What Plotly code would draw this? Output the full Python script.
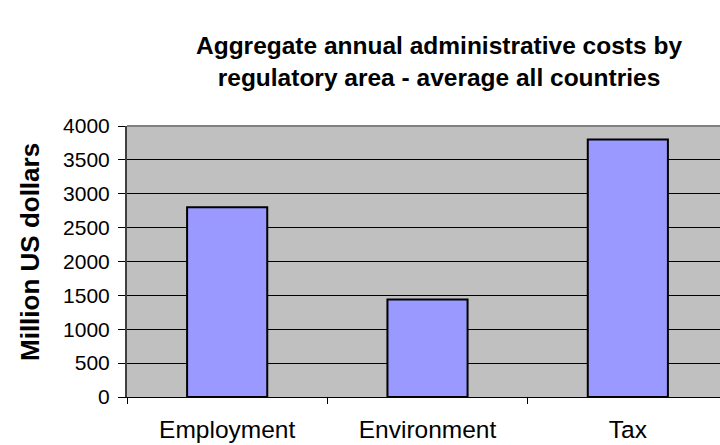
import plotly.graph_objects as go

# Aggregate annual administrative costs (million US dollars)
categories = ["Employment", "Environment", "Tax"]
costs = [2800, 1440, 3800]
y_ticks = [0, 500, 1000, 1500, 2000, 2500, 3000, 3500, 4000]

FONT = "Liberation Sans, Arial, sans-serif"

fig = go.Figure(
    go.Bar(
        x=categories,
        y=costs,
        width=0.4,
        marker=dict(color="#9999FF", line=dict(color="#000000", width=2)),
        hoverinfo="x+y",
    )
)

fig.update_layout(
    width=720,
    height=445,
    margin=dict(l=127, r=0, t=126, b=48),
    paper_bgcolor="#FFFFFF",
    plot_bgcolor="#C0C0C0",
    showlegend=False,
    font=dict(family=FONT, color="#000000"),
    title=dict(
        text="<b>Aggregate annual administrative costs by<br>regulatory area - average all countries</b>",
        x=439 / 720,
        xanchor="center",
        y=0.878,
        yanchor="top",
        font=dict(size=24.5, family=FONT, color="#000000"),
    ),
    xaxis=dict(
        range=[-0.5, 2.46],
        showgrid=False,
        showline=True,
        linecolor="#000000",
        linewidth=1,
        ticks="outside",
        tickson="boundaries",
        ticklen=6,
        tickcolor="#000000",
        tickfont=dict(size=24.5, family=FONT),
        ticklabelstandoff=11,
        zeroline=False,
    ),
    yaxis=dict(
        range=[0, 4000],
        tickvals=y_ticks,
        showgrid=True,
        gridcolor="#000000",
        gridwidth=1,
        showline=True,
        linecolor="#404040",
        linewidth=2,
        ticks="outside",
        ticklen=7,
        tickcolor="#000000",
        tickfont=dict(size=21, family=FONT),
        ticklabelstandoff=4,
        zeroline=False,
    ),
    annotations=[
        dict(
            text="<b>Million US dollars</b>",
            textangle=-90,
            xref="paper", yref="paper",
            x=(30 - 127) / 593, y=(397 - 252) / 271,
            xanchor="center", yanchor="middle",
            showarrow=False,
            font=dict(size=26, family=FONT, color="#000000"),
        )
    ],
    shapes=[
        dict(
            type="line", xref="paper", yref="paper",
            x0=0, x1=1, y0=1, y1=1,
            line=dict(color="#808080", width=2),
        )
    ],
)

fig.write_html("out.html")
